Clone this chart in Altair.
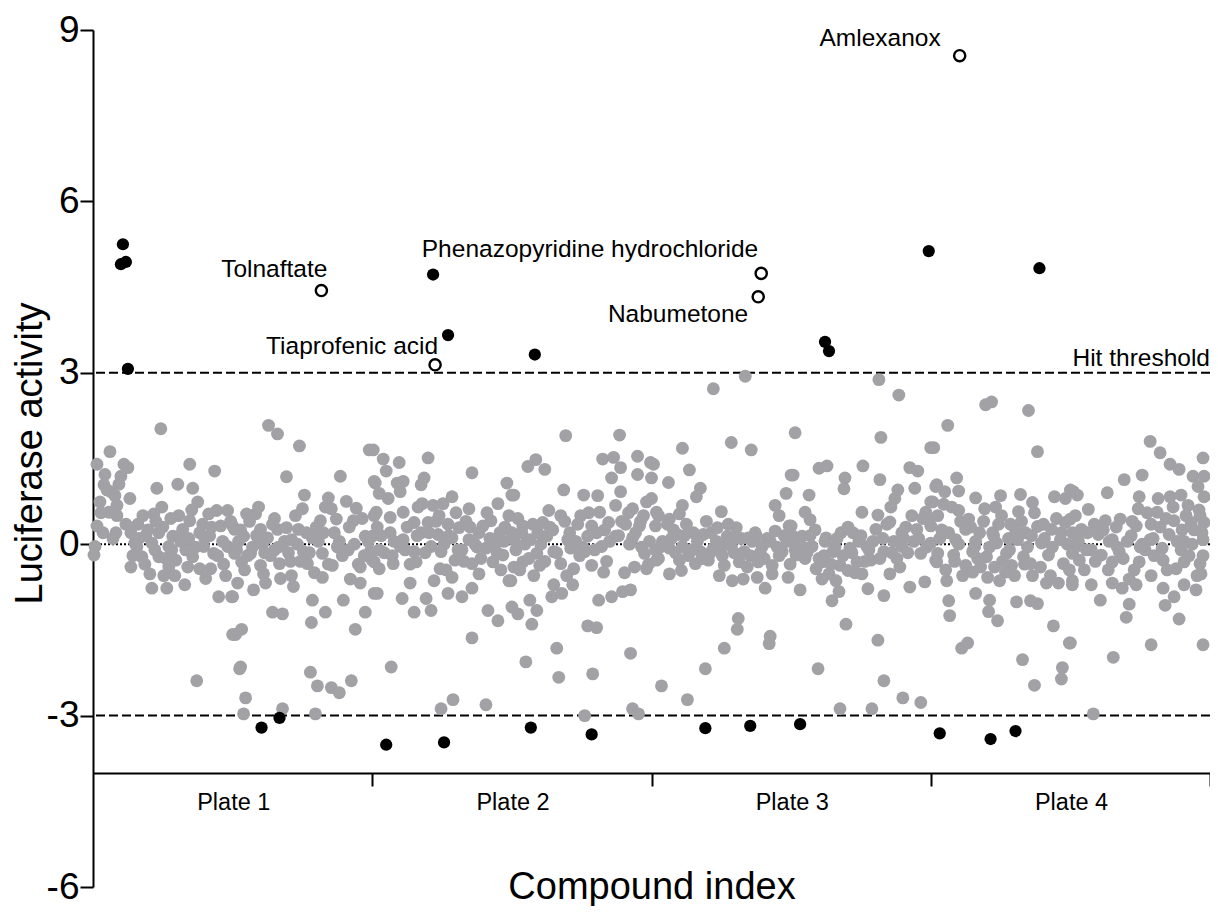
import altair as alt
import pandas as pd

FONT = "Liberation Sans"
PLATE = 280  # compound-index positions per plate
plate_names = ["Plate 1", "Plate 2", "Plate 3", "Plate 4"]
y_ticks = [-6, -3, 0, 3, 6, 9]
threshold_vals = [3, -3]

# inactive compounds (grey), (compound index, luciferase activity)
gray_plate1 = [
    (68, 2.02), (17, 1.62), (4, 1.40), (31, 1.40), (35, 1.34), (28, 1.19), (12, 1.22), (11, 1.04),
    (18, 0.92), (37, 0.80), (7, 0.74), (24, 0.68), (16, 0.56), (24, 0.50), (4, 0.32), (23, 0.20),
    (2, -0.04), (1, -0.19), (97, 1.40), (122, 1.28), (64, 0.98), (85, 1.05), (100, 0.98), (105, 0.74),
    (69, 0.65), (50, 0.50), (61, 0.53), (45, 0.35), (116, 0.53), (124, 0.59), (135, 0.59), (128, 0.32),
    (142, 0.26), (86, 0.50), (97, 0.41), (90, 0.26), (38, 0.20), (66, 0.20), (80, 0.14), (107, 0.20),
    (42, 0.02), (59, 0.02), (76, -0.04), (93, -0.10), (111, -0.04), (121, -0.16), (135, -0.04),
    (142, -0.16), (49, -0.22), (38, -0.40), (66, -0.22), (83, -0.28), (76, -0.40), (100, -0.22),
    (107, -0.43), (118, -0.43), (57, -0.52), (71, -0.55), (59, -0.77), (74, -0.77), (92, -0.71),
    (126, -0.92), (140, -0.92), (145, -0.68), (143, -1.58), (104, -2.39), (148, -2.15),
    (176, 2.08), (185, 1.93), (207, 1.72), (194, 1.18), (248, 1.19), (212, 0.86), (236, 0.81),
    (210, 0.62), (239, 0.62), (264, 0.63), (154, 0.53), (163, 0.53), (228, 0.41), (244, 0.44),
    (261, 0.41), (140, 0.32), (168, 0.26), (185, 0.26), (194, 0.29), (206, 0.26), (151, 0.14),
    (175, 0.11), (199, 0.08), (220, 0.11), (247, 0.05), (273, 0.14), (144, -0.10), (158, -0.16),
    (182, -0.10), (211, -0.13), (230, -0.16), (256, -0.10), (278, -0.13), (149, -0.31), (168, -0.37),
    (187, -0.34), (215, -0.34), (240, -0.37), (268, -0.40), (171, -0.52), (199, -0.55), (230, -0.58),
    (258, -0.61), (268, -0.68), (161, -0.80), (173, -0.68), (201, -0.74), (220, -0.98), (251, -0.98),
    (139, -0.92), (180, -1.19), (190, -1.22), (219, -1.37), (233, -1.19), (273, -1.19), (263, -1.49),
    (149, -1.49), (140, -1.58), (147, -2.18), (218, -2.24), (225, -2.48), (239, -2.51), (247, -2.60),
    (259, -2.39), (153, -2.69), (151, -2.97), (190, -2.88), (223, -2.97),
    (8, 0.55), (14, 0.95), (20, 0.10), (26, 1.05), (33, 0.35), (40, -0.20), (46, 0.10), (52, -0.35),
    (55, 0.25), (62, -0.10), (70, 0.30), (73, -0.25), (78, 0.45), (82, -0.55), (88, 0.05), (95, -0.40),
    (99, 0.60), (103, -0.05), (110, 0.35), (113, -0.60), (117, 0.15), (125, -0.20), (130, 0.05),
    (133, -0.55), (138, 0.40), (146, 0.05), (152, -0.45), (157, 0.40), (160, -0.05), (166, 0.65),
    (170, 0.00), (178, -0.20), (182, 0.45), (188, -0.60), (192, 0.05), (196, -0.15), (203, 0.50),
    (208, -0.30), (214, 0.20), (222, -0.50), (226, 0.05), (233, 0.65), (236, -0.35), (242, 0.20),
    (250, -0.20), (254, 0.75), (262, 0.00), (266, -0.35), (270, 0.45), (276, 0.05),
    (10, 0.20), (22, 0.85), (44, -0.05), (53, 0.15), (63, 0.40), (79, -0.10), (87, 0.15), (96, 0.10),
    (112, 0.10), (119, 0.30), (131, -0.35), (148, 0.25), (155, -0.20), (164, 0.15), (172, -0.15),
    (180, 0.35), (186, -0.05), (198, -0.30), (205, 0.00), (217, -0.15), (224, 0.30), (231, 0.20),
    (245, -0.05), (257, 0.30), (272, -0.20),
]
gray_plate2 = [
    (281, 1.65), (283, 1.07), (282, 0.50), (282, -0.31), (285, -0.86),
    (277, 1.65), (291, 1.49), (307, 1.43), (336, 1.51), (380, 1.25), (415, 1.07), (422, 0.86),
    (294, 1.28), (282, 1.10), (305, 1.07), (311, 1.10), (329, 1.04), (332, 1.16), (287, 0.89),
    (308, 0.92), (330, 0.71), (341, 0.68), (351, 0.71), (360, 0.83), (377, 0.62), (406, 0.71),
    (417, 0.50), (284, 0.56), (298, 0.47), (311, 0.56), (322, 0.38), (336, 0.38), (356, 0.35),
    (367, 0.29), (391, 0.32), (399, 0.41), (408, 0.20), (280, 0.14), (298, 0.20), (311, 0.08),
    (329, 0.20), (346, 0.17), (360, 0.11), (377, 0.08), (387, 0.20), (422, 0.08), (287, -0.10),
    (308, -0.04), (322, -0.13), (339, -0.04), (349, -0.13), (370, -0.10), (394, -0.07), (411, -0.19),
    (280, -0.28), (324, -0.31), (363, -0.28), (380, -0.34), (401, -0.31), (422, -0.40), (287, -0.43),
    (301, -0.34), (348, -0.43), (387, -0.52), (342, -0.64), (360, -0.58), (318, -0.68), (417, -0.64),
    (282, -0.86), (310, -0.95), (334, -0.95), (356, -0.86), (370, -0.92), (380, -0.77), (322, -1.19),
    (339, -1.16), (396, -1.16), (406, -1.34), (420, -1.10), (380, -1.64), (299, -2.15), (349, -2.88),
    (361, -2.72), (394, -2.81),
    (474, 1.90), (528, 1.91), (436, 1.36), (444, 1.48), (453, 1.31), (511, 1.49), (522, 1.52),
    (546, 1.54), (520, 1.16), (529, 1.34), (546, 1.22), (420, 0.86), (472, 0.95), (492, 0.86),
    (506, 0.85), (529, 0.92), (457, 0.59), (469, 0.50), (489, 0.50), (508, 0.56), (524, 0.68),
    (541, 0.62), (555, 0.74), (431, 0.32), (451, 0.38), (486, 0.35), (500, 0.32), (517, 0.38),
    (534, 0.35), (548, 0.32), (420, 0.20), (438, 0.08), (455, 0.14), (476, 0.08), (496, 0.14),
    (524, 0.14), (541, 0.11), (558, 0.05), (424, -0.10), (445, -0.16), (462, -0.13), (479, -0.07),
    (493, -0.13), (510, -0.04), (553, -0.16), (431, -0.31), (448, -0.37), (469, -0.34), (482, -0.43),
    (500, -0.37), (543, -0.40), (555, -0.43), (419, -0.64), (462, -0.71), (481, -0.71), (512, -0.49),
    (460, -0.92), (470, -0.86), (507, -0.98), (520, -0.92), (531, -0.83), (539, -0.80), (438, -0.98),
    (445, -1.16), (426, -1.22), (440, -1.40), (496, -1.43), (505, -1.46), (465, -1.82), (539, -1.91),
    (434, -2.06), (467, -2.33), (501, -2.27), (493, -3.00), (541, -2.88), (547, -2.97),
    (285, 0.30), (292, -0.15), (296, 0.80), (302, 0.05), (315, 0.30), (318, -0.35), (326, 0.65),
    (333, -0.15), (344, 0.40), (352, 0.00), (354, -0.45), (364, 0.55), (372, -0.30), (374, 0.40),
    (383, 0.00), (389, -0.25), (395, 0.55), (403, 0.00), (409, -0.45), (413, 0.30), (426, 0.45),
    (428, -0.45), (433, 0.00), (441, 0.35), (442, -0.55), (449, 0.00), (458, 0.30), (465, -0.15),
    (473, 0.40), (475, -0.55), (484, 0.05), (488, -0.20), (497, 0.55), (503, -0.10), (513, 0.25),
    (515, -0.30), (527, 0.15), (533, -0.50), (537, 0.55), (544, 0.20), (550, -0.05), (552, 0.50),
    (557, -0.35),
    (289, 0.15), (300, -0.20), (313, -0.10), (325, 0.15), (337, 0.20), (347, 0.50), (357, 0.15),
    (366, -0.10), (378, 0.30), (385, -0.05), (398, 0.10), (405, -0.15), (412, 0.05), (430, 0.20),
    (437, -0.25), (446, 0.20), (453, -0.30), (461, 0.25), (478, 0.20), (491, -0.05), (505, 0.20),
    (518, 0.05), (530, 0.40), (538, 0.00), (549, 0.40),
]
gray_plate3 = [
    (562, 1.40), (565, 0.56), (565, -0.28),
    (654, 2.94), (622, 2.72), (591, 1.68), (640, 1.78), (660, 1.65), (704, 1.95), (559, 1.43),
    (560, 1.16), (577, 1.08), (598, 1.30), (609, 0.98), (605, 0.83), (702, 1.21), (695, 0.89),
    (560, 0.80), (591, 0.68), (684, 0.68), (630, 0.57), (567, 0.50), (578, 0.44), (588, 0.53),
    (688, 0.50), (698, 0.32), (564, 0.32), (576, 0.35), (626, 0.29), (645, 0.29), (664, 0.20),
    (684, 0.23), (586, 0.17), (602, 0.20), (612, 0.17), (636, 0.14), (657, 0.11), (702, 0.14),
    (564, -0.10), (578, -0.07), (591, -0.04), (609, -0.13), (622, -0.07), (640, -0.04), (653, -0.13),
    (671, -0.04), (691, -0.13), (705, -0.19), (567, -0.25), (588, -0.28), (604, -0.34), (617, -0.28),
    (633, -0.37), (648, -0.31), (667, -0.31), (681, -0.37), (578, -0.52), (590, -0.46), (628, -0.55),
    (641, -0.64), (652, -0.61), (666, -0.58), (674, -0.77), (681, -0.52), (697, -0.58), (647, -1.30),
    (646, -1.49), (679, -1.61), (678, -1.74), (633, -1.82), (614, -2.18), (570, -2.48), (596, -2.72),
    (788, 2.88), (808, 2.61), (790, 1.87), (700, 1.21), (728, 1.33), (736, 1.37), (772, 1.37),
    (754, 1.16), (753, 0.97), (789, 1.13), (819, 1.34), (827, 1.28), (718, 0.86), (714, 0.56),
    (719, 0.43), (771, 0.56), (787, 0.51), (807, 0.95), (804, 0.80), (824, 0.98), (800, 0.65),
    (799, 0.39), (821, 0.50), (835, 0.56), (700, 0.32), (711, 0.14), (735, 0.11), (750, 0.20),
    (762, 0.20), (785, 0.26), (811, 0.20), (826, 0.26), (704, -0.10), (721, -0.04), (742, -0.13),
    (759, -0.07), (776, -0.04), (793, -0.13), (811, -0.04), (830, -0.16), (714, -0.25), (731, -0.31),
    (749, -0.37), (766, -0.31), (780, -0.28), (725, -0.43), (738, -0.52), (757, -0.46), (771, -0.52),
    (799, -0.52), (809, -0.40), (731, -0.61), (745, -0.64), (709, -0.80), (777, -0.78), (819, -0.75),
    (834, -0.66), (748, -0.83), (741, -0.99), (793, -0.90), (755, -1.40), (787, -1.68), (727, -2.18),
    (793, -2.39), (812, -2.69), (830, -2.77), (749, -2.88), (781, -2.88),
    (571, 0.05), (582, 0.25), (584, -0.15), (595, 0.35), (597, -0.20), (606, 0.05), (615, 0.40),
    (619, -0.15), (625, 0.05), (631, -0.20), (637, 0.35), (643, -0.15), (650, 0.10), (656, -0.40),
    (661, 0.05), (669, -0.15), (676, 0.10), (686, -0.05), (693, 0.15), (699, -0.35), (707, 0.00),
    (716, -0.15), (724, 0.25), (728, -0.25), (734, 0.05), (740, -0.35), (746, 0.10), (752, -0.20),
    (757, 0.30), (764, -0.50), (768, 0.05), (774, -0.30), (782, 0.05), (789, -0.25), (796, 0.35),
    (803, 0.05), (806, -0.25), (815, 0.30), (817, -0.15), (823, 0.05), (832, 0.45), (836, -0.05),
    (569, -0.05), (580, 0.10), (593, 0.15), (600, -0.10), (611, -0.25), (620, 0.20), (628, -0.10),
    (635, 0.00), (644, 0.10), (659, -0.20), (665, 0.15), (673, -0.25), (679, 0.05), (688, -0.20),
    (696, 0.05), (712, -0.05), (719, 0.15), (733, -0.20), (744, -0.05), (761, -0.15), (770, 0.15),
    (778, -0.10), (792, 0.10), (801, -0.15), (813, 0.10), (828, 0.10),
]
gray_plate4 = [
    (843, 1.69), (845, 1.01), (842, 0.74), (840, 0.32), (845, -0.28),
    (895, 2.44), (901, 2.49), (938, 2.34), (857, 2.08), (840, 1.69), (947, 1.62), (866, 1.16),
    (846, 1.04), (854, 0.92), (868, 0.93), (885, 0.81), (910, 0.85), (930, 0.87), (942, 0.73),
    (964, 0.83), (975, 0.80), (983, 0.92), (840, 0.74), (868, 0.59), (894, 0.62), (928, 0.57),
    (878, 0.44), (837, 0.44), (847, 0.50), (908, 0.35), (920, 0.35), (947, 0.31), (975, 0.38),
    (985, 0.50), (858, 0.20), (875, 0.26), (889, 0.20), (902, 0.20), (935, 0.20), (961, 0.26),
    (982, 0.20), (840, 0.02), (865, 0.08), (885, 0.05), (906, 0.02), (927, 0.08), (951, 0.02),
    (970, 0.08), (847, -0.16), (863, -0.19), (882, -0.13), (896, -0.22), (916, -0.16), (933, -0.22),
    (958, -0.19), (982, -0.16), (846, -0.31), (875, -0.37), (904, -0.40), (921, -0.37), (940, -0.34),
    (973, -0.34), (882, -0.49), (897, -0.58), (915, -0.49), (942, -0.55), (956, -0.68), (968, -0.68),
    (982, -0.71), (909, -0.64), (856, -0.64), (885, -0.86), (899, -0.98), (858, -0.99), (859, -1.25),
    (898, -1.18), (907, -1.34), (926, -1.01), (940, -0.99), (947, -1.04), (963, -1.43), (980, -1.73),
    (871, -1.82), (877, -1.73), (932, -2.02), (972, -2.16), (971, -2.36), (944, -2.47),
    (1060, 1.80), (1070, 1.60), (1080, 1.40), (1089, 1.31), (1113, 1.51), (1034, 1.13), (1052, 1.21),
    (1017, 0.90), (980, 0.95), (987, 0.86), (1103, 1.19), (1108, 1.01), (1114, 1.19), (1049, 0.83),
    (1068, 0.80), (1080, 0.83), (1091, 0.86), (1114, 0.83), (998, 0.61), (1048, 0.62), (1067, 0.56),
    (1098, 0.68), (1110, 0.50), (980, 0.44), (1015, 0.41), (1030, 0.44), (1061, 0.35), (1084, 0.41),
    (1101, 0.38), (1114, 0.38), (991, 0.26), (1008, 0.17), (1046, 0.32), (1079, 0.17), (1113, 0.08),
    (1022, 0.08), (1037, 0.05), (1060, 0.08), (1094, 0.05), (984, -0.07), (1001, -0.10), (1029, -0.13),
    (1055, -0.10), (1072, -0.07), (1091, -0.10), (1011, -0.19), (989, -0.28), (1022, -0.31),
    (1049, -0.31), (1073, -0.28), (1094, -0.31), (1110, -0.34), (982, -0.64), (1001, -0.71),
    (1022, -0.68), (1039, -0.61), (1061, -0.55), (1086, -0.43), (1111, -0.52), (1032, -0.77),
    (1046, -0.71), (1073, -0.77), (1094, -0.71), (1106, -0.80), (1010, -0.98), (1084, -0.92),
    (1075, -1.07), (1039, -1.05), (1036, -1.28), (1089, -1.31), (979, -1.73), (1061, -1.76),
    (1113, -1.76), (1023, -1.98), (1003, -2.97),
    (851, 0.25), (855, -0.45), (861, 0.65), (868, 0.00), (872, -0.55), (880, 0.30), (887, -0.25),
    (893, 0.40), (899, -0.05), (905, 0.65), (912, -0.30), (918, 0.10), (924, -0.55), (931, 0.40),
    (937, -0.05), (944, 0.55), (950, -0.40), (954, 0.10), (960, -0.55), (966, 0.45), (977, 0.00),
    (979, -0.45), (986, 0.15), (994, -0.45), (997, 0.20), (1005, -0.30), (1013, 0.25), (1018, -0.45),
    (1026, 0.30), (1033, -0.25), (1041, 0.15), (1044, -0.45), (1052, 0.00), (1057, 0.55),
    (1064, -0.20), (1070, 0.30), (1077, -0.45), (1083, 0.65), (1087, 0.05), (1096, 0.50),
    (1099, -0.20), (1104, 0.25), (1107, -0.55), (1112, 0.20), (1113, -0.20),
    (849, 0.10), (853, 0.70), (864, -0.30), (870, 0.40), (884, -0.05), (890, -0.40), (903, 0.15),
    (911, 0.50), (919, -0.10), (925, 0.25), (934, -0.35), (941, 0.15), (953, 0.35), (962, -0.05),
    (971, 0.20), (988, 0.05), (996, -0.10), (1004, 0.35), (1019, 0.05), (1027, -0.05), (1042, 0.40),
    (1050, -0.05), (1063, 0.10), (1076, 0.45), (1092, 0.25), (1102, 0.00), (1109, 0.60),
]

# hits (black)
hit_idx = [30, 28, 33, 35, 169, 187, 294, 352, 341, 356, 443, 439, 500,
           614, 659, 734, 738, 709, 838, 949, 849, 900, 925]
hit_val = [5.25, 4.90, 4.94, 3.07, -3.21, -3.04, -3.51, -3.47, 4.72, 3.66, 3.32, -3.21, -3.33,
           -3.22, -3.18, 3.54, 3.38, -3.15, 5.13, 4.83, -3.31, -3.41, -3.27]

# named compounds (open circles)
named = ["Tolnaftate", "Tiaprofenic acid", "Phenazopyridine hydrochloride", "Nabumetone", "Amlexanox"]
named_idx = [229, 343, 670, 667, 869]
named_val = [4.44, 3.14, 4.74, 4.33, 8.55]

threshold_label = "Hit threshold"

# ---------------------------------------------------------------- build
gray_df = pd.DataFrame(gray_plate1 + gray_plate2 + gray_plate3 + gray_plate4, columns=["idx", "val"])
hit_df = pd.DataFrame({"idx": hit_idx, "val": hit_val})
named_df = pd.DataFrame({"idx": named_idx, "val": named_val, "name": named})
dash_df = pd.DataFrame({"val": threshold_vals})
zero_df = pd.DataFrame({"val": [0]})
n_total = PLATE * len(plate_names)
thr_df = pd.DataFrame({"idx": [n_total], "val": [threshold_vals[0]], "name": [threshold_label]})

plate_js = "[" + ",".join("'%s'" % p for p in plate_names) + "]"

X = alt.X(
    "idx:Q",
    title="Compound index",
    scale=alt.Scale(domain=[0, n_total], nice=False, zero=False),
    axis=alt.Axis(
        values=[PLATE * (i + 1) for i in range(len(plate_names))],
        labelExpr=plate_js + "[round(datum.value / %d) - 1]" % PLATE,
        labelOffset=-139,
        tickSize=13, tickWidth=2, tickColor="black",
        domainColor="black", domainWidth=2,
        offset=-114, grid=False,
        labelFont=FONT, labelFontSize=23.5, labelColor="black", labelPadding=4,
        labelFlush=False, labelOverlap=False,
        titleFont=FONT, titleFontSize=38, titleFontWeight="normal", titleColor="black",
        titleY=125, titleBaseline="alphabetic",
    ),
)
Y = alt.Y(
    "val:Q",
    title="Luciferase activity",
    scale=alt.Scale(domain=[-6, 9], nice=False, zero=False),
    axis=alt.Axis(
        values=y_ticks,
        labelExpr="toString(datum.value)",
        tickSize=13, tickWidth=2, tickColor="black",
        domainColor="black", domainWidth=2, grid=False,
        labelFont=FONT, labelFontSize=37, labelColor="black", labelPadding=1,
        titleFont=FONT, titleFontSize=38, titleFontWeight="normal", titleColor="black",
        titleX=-52, titleY=423, titleBaseline="alphabetic", titleAngle=270, titleAlign="center",
    ),
)

dashed = alt.Chart(dash_df).mark_rule(color="black", strokeWidth=2, strokeDash=[9, 4]).encode(y=Y)
dotted = alt.Chart(zero_df).mark_rule(color="black", strokeWidth=2, strokeDash=[2, 2]).encode(y=Y)

gray = alt.Chart(gray_df).mark_circle(color="#a1a1a6", size=165, opacity=1).encode(x=X, y=Y)
hits = alt.Chart(hit_df).mark_circle(color="black", size=150, opacity=1).encode(x=X, y=Y)
opens = alt.Chart(named_df).mark_point(
    shape="circle", filled=False, color="black", strokeWidth=2.4, size=125, opacity=1
).encode(x=X, y=Y)

label_offsets = {
    "Tolnaftate": (6, -14),
    "Tiaprofenic acid": (3, -11),
    "Phenazopyridine hydrochloride": (-3, -16),
    "Nabumetone": (-10, 25),
    "Amlexanox": (-19, -10),
}
labels = []
for nm in named:
    dx, dy = label_offsets[nm]
    labels.append(
        alt.Chart(named_df[named_df["name"] == nm]).mark_text(
            align="right", baseline="alphabetic", dx=dx, dy=dy,
            font=FONT, fontSize=24.5, color="black",
        ).encode(x=X, y=Y, text="name:N")
    )

thr_text = alt.Chart(thr_df).mark_text(
    align="right", baseline="alphabetic", dy=-7, font=FONT, fontSize=24.5, color="black"
).encode(x=X, y=Y, text="name:N")

chart = alt.layer(dashed, dotted, gray, hits, opens, *labels, thr_text).properties(
    width=1117,
    height=857,
    autosize=alt.AutoSizeParams(type="none"),
    padding={"left": 85, "top": 22, "right": 0, "bottom": 19},
).configure_view(stroke=None)

chart.save("out.html", embed_options={"renderer": "svg", "actions": False})
